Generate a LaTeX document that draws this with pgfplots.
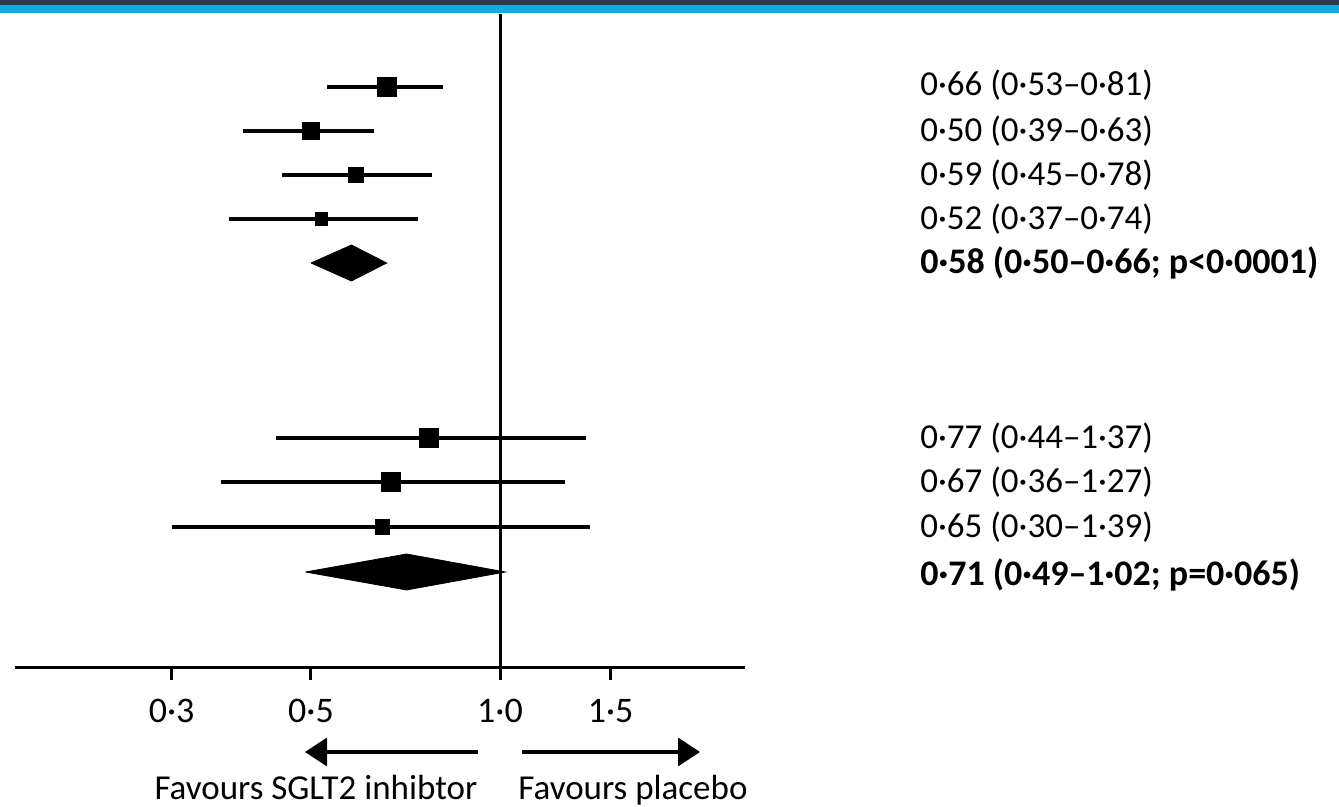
\documentclass[border=0pt]{standalone}
\usepackage{pgfplots}
\pgfplotsset{compat=1.18}
\usepackage{fontspec}
\setmainfont{Carlito}
\usetikzlibrary{arrows.meta}
\definecolor{topdark}{HTML}{2B3A4A}
\definecolor{topblue}{HTML}{1BA6DF}
\begin{document}
\begin{tikzpicture}[font=\fontsize{17.5}{21}\selectfont]
\useasboundingbox (0pt,0pt) rectangle (669.5pt,403.5pt);
\fill[white] (0pt,0pt) rectangle (669.5pt,403.5pt);
\fill[topblue] (0pt,397pt) rectangle (669.5pt,401pt);
\fill[topdark] (0pt,401pt) rectangle (669.5pt,403.5pt);
\begin{axis}[
  at={(7.5pt,69.5pt)}, anchor=south west,
  scale only axis, width=365pt, height=327pt,
  xmode=log, xmin=0.1689, xmax=2.4557, ymin=0, ymax=654,
  axis x line=bottom, axis y line=none,
  axis line style={-, line width=1.5pt, black},
  xtick={0.3,0.5,1,1.5}, xticklabels={0·3,0·5,1·0,1·5},
  minor xtick={},
  tick align=outside, major tick length=6pt,
  every tick/.style={black, line width=1.5pt},
  xticklabel style={font=\fontsize{18}{21}\selectfont, yshift=-6pt},
  clip=false,
]
% reference line
\addplot[black, line width=1.5pt] coordinates {(1,0) (1,654)};
% group 1 CIs
\addplot[black, line width=1.6pt] coordinates {(0.53,581) (0.81,581)};
\addplot[black, line width=1.6pt] coordinates {(0.39,537) (0.63,537)};
\addplot[black, line width=1.6pt] coordinates {(0.45,493) (0.78,493)};
\addplot[black, line width=1.6pt] coordinates {(0.37,449) (0.74,449)};
% group 1 estimates
\addplot[only marks, mark=square*, mark size=4.7pt, black] coordinates {(0.66,581)};
\addplot[only marks, mark=square*, mark size=4.2pt, black] coordinates {(0.50,537)};
\addplot[only marks, mark=square*, mark size=3.75pt, black] coordinates {(0.59,493)};
\addplot[only marks, mark=square*, mark size=3.1pt, black] coordinates {(0.52,449)};
% group 1 pooled
\addplot[fill=black, draw=black] coordinates {(0.50,405) (0.58,423) (0.66,405) (0.58,387) (0.50,405)};
% group 2 CIs
\addplot[black, line width=1.6pt] coordinates {(0.44,230) (1.37,230)};
\addplot[black, line width=1.6pt] coordinates {(0.36,186) (1.27,186)};
\addplot[black, line width=1.6pt] coordinates {(0.30,141) (1.39,141)};
% group 2 estimates
\addplot[only marks, mark=square*, mark size=4.75pt, black] coordinates {(0.77,230)};
\addplot[only marks, mark=square*, mark size=4.7pt, black] coordinates {(0.67,186)};
\addplot[only marks, mark=square*, mark size=3.6pt, black] coordinates {(0.65,141)};
% group 2 pooled
\addplot[fill=black, draw=black] coordinates {(0.49,96) (0.71,114) (1.02,96) (0.71,78) (0.49,96)};
% text column
\begin{scope}[every node/.style={anchor=west, inner sep=0pt}]
\node at (axis cs:4.665,583) {0·66 (0·53–0·81)};
\node at (axis cs:4.665,537) {0·50 (0·39–0·63)};
\node at (axis cs:4.665,493) {0·59 (0·45–0·78)};
\node at (axis cs:4.665,449) {0·52 (0·37–0·74)};
\node at (axis cs:4.665,405) {\fontsize{18}{21}\selectfont\bfseries 0·58 (0·50–0·66; p<0·0001)};
\node at (axis cs:4.665,230) {0·77 (0·44–1·37)};
\node at (axis cs:4.665,186) {0·67 (0·36–1·27)};
\node at (axis cs:4.665,141) {0·65 (0·30–1·39)};
\node at (axis cs:4.665,93) {\fontsize{18}{21}\selectfont\bfseries 0·71 (0·49–1·02; p=0·065)};
\end{scope}
\end{axis}
\draw[line width=1.7pt, -{Triangle[length=11pt,width=14pt]}] (239pt,27.5pt) -- (152.5pt,27.5pt);
\draw[line width=1.7pt, -{Triangle[length=11pt,width=14pt]}] (261pt,27.5pt) -- (350pt,27.5pt);
\node[anchor=base] at (158pt,3.5pt) {Favours SGLT2 inhibtor};
\node[anchor=base] at (316.5pt,3.5pt) {Favours placebo};
\end{tikzpicture}
\end{document}
